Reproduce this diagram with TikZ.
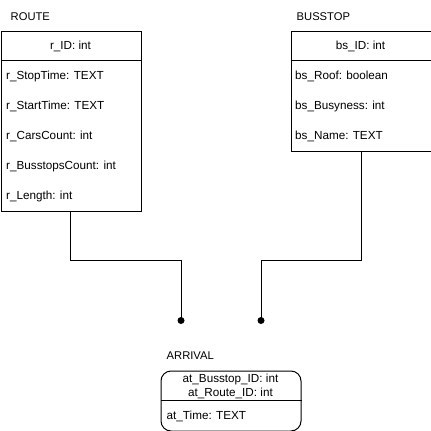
\documentclass[tikz,border=0pt]{standalone}
\usepackage{fontspec}
\setmainfont{Liberation Sans}
\begin{document}
\begin{tikzpicture}[x=1pt,y=-1pt,
  every node/.style={font=\fontsize{11.7}{13.5}\selectfont, inner sep=0pt},
  ent/.style={draw, line width=1pt, rectangle, anchor=north west, minimum width=140pt},
  lbl/.style={anchor=base west},
  ctr/.style={anchor=base},
  conn/.style={line width=1pt},
  dotend/.style={fill=black, circle, minimum size=7pt, inner sep=0pt}]
\useasboundingbox (0,0) rectangle (431,431);
% ROUTE
\node[lbl, font=\fontsize{11.2}{13}\selectfont] (routelbl) at (10.5,20) {ROUTE};
\node[ent, minimum height=180pt] (route) at (0.5,30.5) {};
\draw[line width=1pt] (route.west |- 0,60.5) -- (route.east |- 0,60.5);
\node[ctr] (rid) at (70.5,49) {r\_ID: int};
\node[lbl] (r1) at (6,79) {r\_StopTime: TEXT};
\node[lbl] (r2) at (6,109) {r\_StartTime: TEXT};
\node[lbl] (r3) at (6,139) {r\_CarsCount: int};
\node[lbl] (r4) at (6,169) {r\_BusstopsCount: int};
\node[lbl] (r5) at (6,199) {r\_Length: int};
% BUSSTOP
\node[lbl, font=\fontsize{11.2}{13}\selectfont] (bslbl) at (296.5,20) {BUSSTOP};
\node[ent, minimum height=120pt] (bus) at (290.5,30.5) {};
\draw[line width=1pt] (bus.west |- 0,60.5) -- (bus.east |- 0,60.5);
\node[ctr] (bsid) at (360.5,49) {bs\_ID: int};
\node[lbl] (b1) at (295,79) {bs\_Roof: boolean};
\node[lbl] (b2) at (295,109) {bs\_Busyness: int};
\node[lbl] (b3) at (295,139) {bs\_Name: TEXT};
% ARRIVAL
\node[lbl, font=\fontsize{11.2}{13}\selectfont] (arrlbl) at (166.5,359.5) {ARRIVAL};
\node[draw, line width=1pt, rounded corners=10pt, anchor=north west, minimum width=140pt, minimum height=60pt] (arr) at (160.5,370.5) {};
\draw[line width=1pt] (arr.west |- 0,400.5) -- (arr.east |- 0,400.5);
\node[ctr] (a1) at (230.5,382.5) {at\_Busstop\_ID: int};
\node[ctr] (a2) at (230.5,396) {at\_Route\_ID: int};
\node[lbl] (a3) at (166.5,419) {at\_Time: TEXT};
% connectors
\node[dotend] (d1) at (181,320.5) {};
\node[dotend] (d2) at (261,320.5) {};
\draw[conn] (route.south -| 70.5,0) -- (70.5,260.5) -| (d1.center);
\draw[conn] (bus.south -| 361,0) -- (361,260.5) -| (d2.center);
\end{tikzpicture}
\end{document}
